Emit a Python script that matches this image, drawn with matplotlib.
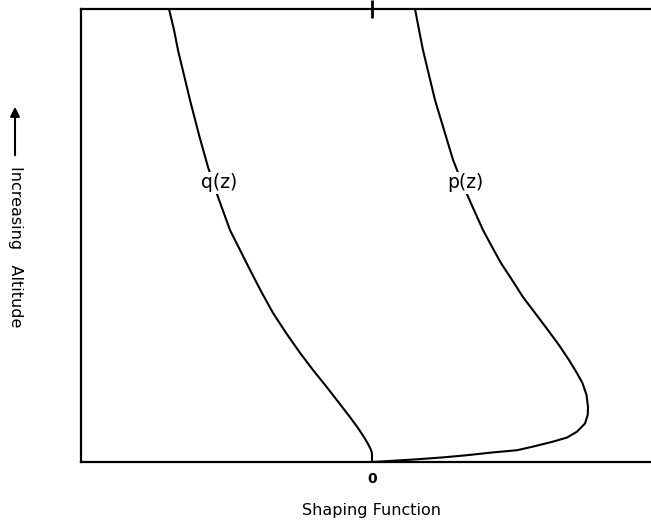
import matplotlib
matplotlib.use("Agg")
import matplotlib.pyplot as plt
from matplotlib.patches import FancyArrowPatch

plt.rcParams['font.family'] = ['DejaVu Sans']

# q(z) curve: shaping function value vs normalized altitude
q_x = [-2.03, -1.98, -1.94, -1.88, -1.82, -1.73, -1.64, -1.54, -1.42, -1.32,
       -1.22, -1.105, -0.99, -0.86, -0.72, -0.59, -0.455, -0.335, -0.22, -0.14,
       -0.08, -0.04, -0.015, -0.003, 0.0, 0.0]
q_z = [1.0, 0.954, 0.909, 0.854, 0.799, 0.722, 0.651, 0.585, 0.512, 0.468,
       0.424, 0.375, 0.329, 0.285, 0.241, 0.203, 0.166, 0.132, 0.099, 0.075,
       0.055, 0.040, 0.029, 0.022, 0.015, 0.0]

# p(z) curve
p_x = [0.43, 0.47, 0.51, 0.57, 0.63, 0.72, 0.81, 0.91, 1.01, 1.11, 1.20, 1.29,
       1.40, 1.51, 1.63, 1.76, 1.87, 1.97, 2.05, 2.105, 2.145, 2.16, 2.157, 2.13,
       2.05, 1.95, 1.81, 1.61, 1.45, 1.20, 0.95, 0.70, 0.45, 0.23, 0.01]
p_z = [1.0, 0.954, 0.909, 0.854, 0.799, 0.733, 0.667, 0.611, 0.561, 0.512,
       0.475, 0.439, 0.402, 0.364, 0.329, 0.291, 0.258, 0.225, 0.196, 0.174,
       0.148, 0.121, 0.104, 0.085, 0.067, 0.054, 0.045, 0.034, 0.026, 0.021,
       0.015, 0.010, 0.006, 0.003, 0.0]

curve_labels = ["q(z)", "p(z)"]
label_pos = [(-1.53, 0.616), (0.93, 0.616)]
xticks = [0]
xticklabels = ["0"]

fig = plt.figure(figsize=(6.51, 5.21), dpi=100)
ax = fig.add_axes([81/651, 59/521, 1.02 - 81/651, (462-9)/521])

ax.plot(q_x, q_z, color='black', lw=1.5, solid_capstyle='round', solid_joinstyle='round')
ax.plot(p_x, p_z, color='black', lw=1.5, solid_capstyle='round', solid_joinstyle='round')

for lab, (lx, ly) in zip(curve_labels, label_pos):
    ax.text(lx, ly, lab, ha='center', va='center', fontsize=13.5,
            bbox=dict(facecolor='white', edgecolor='none', pad=1.0))

ax.set_xlim(-2.91, 2.92)
ax.set_ylim(0, 1)
ax.set_xticks(xticks)
ax.set_xticklabels(xticklabels, fontsize=10, fontweight='bold')
ax.set_yticks([])
ax.tick_params(axis='x', bottom=True, top=False, length=0, pad=7)
secax = ax.secondary_xaxis('top')
secax.set_xticks(xticks)
secax.tick_params(direction='inout', length=13, width=2, labeltop=False)
for s in secax.spines.values():
    s.set_visible(False)
ax.spines['right'].set_visible(False)
for s in ['left', 'top', 'bottom']:
    ax.spines[s].set_linewidth(1.6)

fig.text(372/651, 1 - 510/521, "Shaping Function", ha='center', va='center', fontsize=11.5)
fig.text(15/651, 1 - 247/521, "Increasing   Altitude", rotation=270,
         ha='center', va='center', fontsize=11.5)
fig.patches.append(FancyArrowPatch(
    (15/651, 1 - 158/521), (15/651, 1 - 104/521), transform=fig.transFigure,
    arrowstyle='-|>', mutation_scale=14, color='black', lw=1.5))

fig.savefig("out.png", dpi=100)
